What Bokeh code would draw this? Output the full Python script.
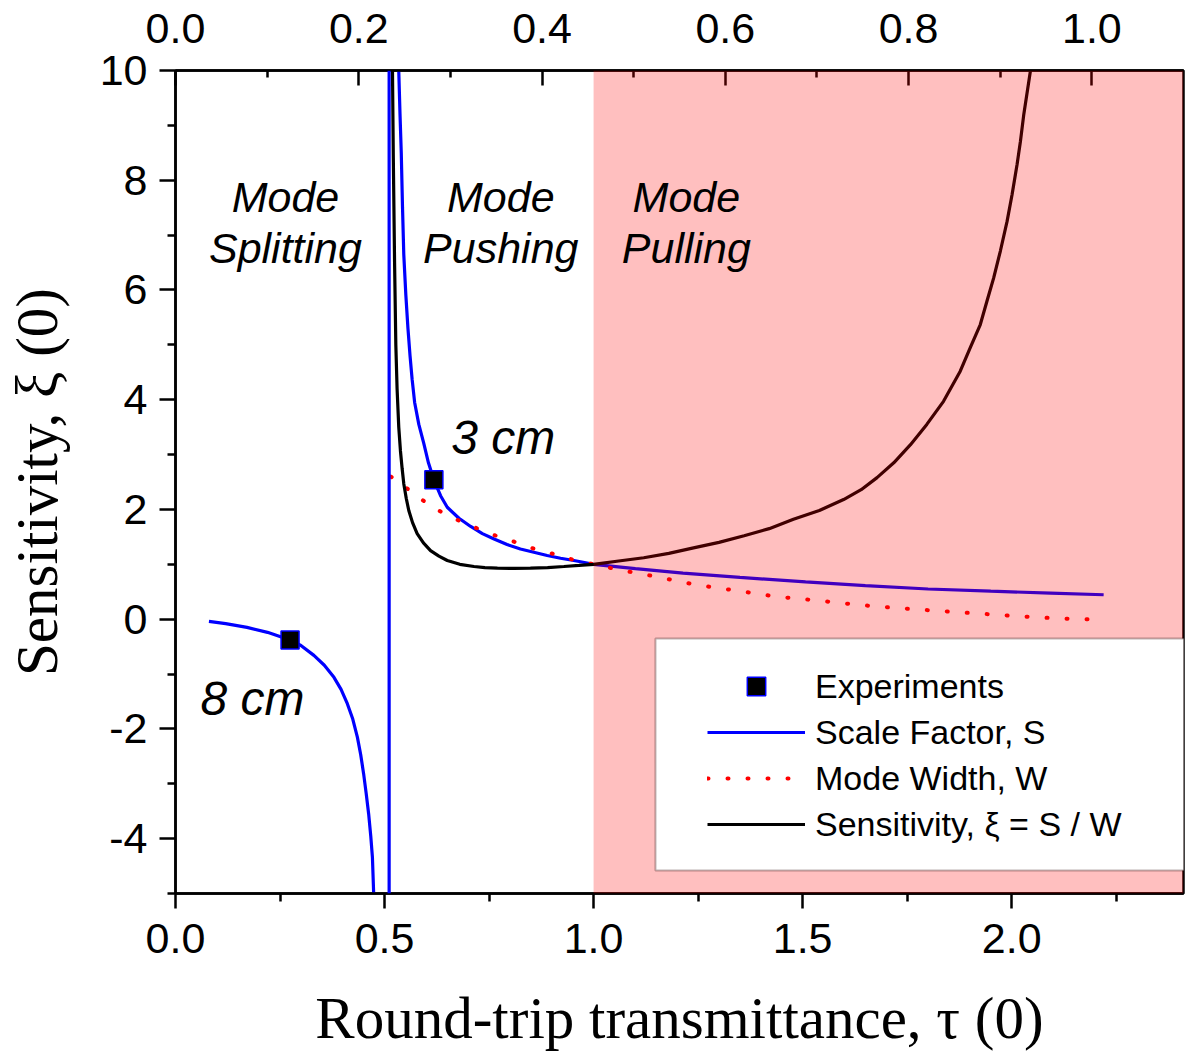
from bokeh.plotting import figure
from bokeh.models import (Range1d, LinearAxis, FixedTicker, BoxAnnotation, Label,
                          Legend, LegendItem, Span)
from bokeh.embed import file_html
from bokeh.resources import INLINE

# ---------------- data ----------------
# Scale factor S, left branch (mode splitting side)
s_left_x = [0.080, 0.120, 0.171, 0.220, 0.274, 0.300, 0.331, 0.356, 0.379, 0.396, 0.411,
            0.424, 0.435, 0.443, 0.450, 0.456, 0.462, 0.467, 0.471, 0.474]
s_left_y = [-0.04, -0.08, -0.15, -0.24, -0.38, -0.48, -0.66, -0.84, -1.06, -1.28, -1.54,
            -1.82, -2.15, -2.47, -2.82, -3.17, -3.55, -3.95, -4.34, -5.0]
# pole of S
pole_x = 0.511
# Scale factor S, right branch
s_right_x = [0.534, 0.537, 0.540, 0.543, 0.546, 0.551, 0.556, 0.561, 0.566, 0.572, 0.582,
             0.594, 0.605, 0.618, 0.634, 0.650, 0.678, 0.706, 0.734, 0.762, 0.793, 0.825,
             0.857, 0.889, 0.921, 0.953, 1.000, 1.100, 1.214, 1.350, 1.507, 1.650, 1.800,
             1.950, 2.093, 2.220]
s_right_y = [10.0, 9.2, 8.5, 7.5, 6.65, 5.9, 5.3, 4.8, 4.37, 3.95, 3.55,
             3.2, 2.85, 2.54, 2.25, 2.04, 1.84, 1.69, 1.56, 1.46, 1.36, 1.28,
             1.22, 1.16, 1.11, 1.07, 1.00, 0.92, 0.84, 0.76, 0.68, 0.61, 0.55,
             0.51, 0.475, 0.445]
# Mode width W
w_x = [0.515, 0.565, 0.612, 0.662, 0.710, 0.759, 0.807, 0.855, 0.903, 0.952, 1.000,
       1.048, 1.146, 1.243, 1.341, 1.439, 1.536, 1.634, 1.732, 1.827, 1.925, 2.023,
       2.120, 2.218]
w_y = [2.60, 2.32, 2.05, 1.85, 1.69, 1.54, 1.42, 1.29, 1.19, 1.08, 1.00,
       0.92, 0.78, 0.63, 0.52, 0.41, 0.34, 0.26, 0.20, 0.15, 0.10, 0.05,
       0.01, -0.01]
# Sensitivity xi = S / W
xi_x = [0.519, 0.521, 0.524, 0.527, 0.530, 0.534, 0.538, 0.542, 0.546, 0.552, 0.558,
        0.567, 0.578, 0.593, 0.610, 0.630, 0.650, 0.680, 0.714, 0.740, 0.770, 0.810,
        0.849, 0.890, 0.929, 0.965, 1.000, 1.060, 1.120, 1.180, 1.239, 1.300, 1.360,
        1.420, 1.478, 1.540, 1.598, 1.640, 1.678, 1.718, 1.758, 1.797, 1.837, 1.877,
        1.901, 1.925, 1.941, 1.957, 1.973, 1.989, 2.001, 2.013, 2.021, 2.029, 2.045]
xi_y = [10.0, 8.4, 6.5, 5.0, 4.2, 3.5, 3.07, 2.75, 2.47, 2.2, 1.98,
        1.76, 1.56, 1.39, 1.25, 1.15, 1.07, 1.00, 0.96, 0.94, 0.93, 0.925,
        0.93, 0.94, 0.96, 0.98, 1.00, 1.06, 1.12, 1.20, 1.30, 1.40, 1.52,
        1.65, 1.82, 1.98, 2.18, 2.36, 2.58, 2.85, 3.18, 3.55, 3.97, 4.52,
        4.95, 5.37, 5.80, 6.22, 6.71, 7.25, 7.74, 8.29, 8.71, 9.20, 10.0]
# Experiments
exp_x = [0.274, 0.618]
exp_y = [-0.38, 2.54]
# Mode pulling region starts at
pulling_start = 1.0

# tick definitions
left_ticks = [-4, -2, 0, 2, 4, 6, 8, 10]
left_minor = [-5, -3, -1, 1, 3, 5, 7, 9]
bottom_ticks = [0.0, 0.5, 1.0, 1.5, 2.0]
bottom_minor = [0.25, 0.75, 1.25, 1.75, 2.25]
top_ticks = [0.0, 0.2, 0.4, 0.6, 0.8, 1.0]
top_minor = [0.1, 0.3, 0.5, 0.7, 0.9]

SANS = "Liberation Sans"
SERIF = "Liberation Serif"

p = figure(width=1196, height=1055,
           x_range=Range1d(0, 2.411), y_range=Range1d(-5, 10),
           output_backend="svg", toolbar_location=None,
           min_border_left=175, min_border_right=13, min_border_top=70,
           min_border_bottom=162,
           x_axis_label="Round-trip transmittance, τ (0)",
           y_axis_label="Sensitivity, ξ (0)")
p.grid.visible = False
p.outline_line_color = "black"
p.outline_line_width = 2.5
p.background_fill_color = "white"
p.border_fill_color = "white"

p.extra_x_ranges = {"top": Range1d(0, 1.1)}
top_axis = LinearAxis(x_range_name="top")
p.add_layout(top_axis, "above")

bottom_axis = p.below[0]
left_axis = p.left[0]


def style_axis(ax, ticks, minor, fmt, tin, tout, mtin, mtout, standoff):
    ax.ticker = FixedTicker(ticks=ticks, minor_ticks=minor)
    ax.major_label_overrides = {t: fmt.format(t) for t in ticks}
    ax.axis_line_color = "black"
    ax.axis_line_width = 2.5
    ax.major_tick_line_color = "black"
    ax.major_tick_line_width = 2.5
    ax.minor_tick_line_color = "black"
    ax.minor_tick_line_width = 2.5
    ax.major_tick_in = tin
    ax.major_tick_out = tout
    ax.minor_tick_in = mtin
    ax.minor_tick_out = mtout
    ax.major_label_text_font = SANS
    ax.major_label_text_font_size = "43px"
    ax.major_label_text_color = "black"
    ax.major_label_standoff = standoff


style_axis(left_axis, left_ticks, left_minor, "{:g}", 0, 16, 0, 8, 12)
style_axis(bottom_axis, bottom_ticks, bottom_minor, "{:.1f}", 0, 15, 0, 8, 15)
style_axis(top_axis, top_ticks, top_minor, "{:.1f}", 15, 0, 7, 0, 28)

for ax, so in ((bottom_axis, 29), (left_axis, 27)):
    ax.axis_label_text_font = SERIF
    ax.axis_label_text_font_size = "59px"
    ax.axis_label_text_font_style = "normal"
    ax.axis_label_text_color = "black"
    ax.axis_label_standoff = so

# ---------------- curves ----------------
r_sl = p.line(s_left_x, s_left_y, line_color="#0000FF", line_width=3.2)
r_sr = p.line(s_right_x, s_right_y, line_color="#0000FF", line_width=3.2)
r_w = p.line(w_x, w_y, line_color="#FF0000", line_width=4, line_dash="1 19",
             line_cap="round")
r_xi = p.line(xi_x, xi_y, line_color="black", line_width=3.2)
r_exp = p.scatter(exp_x, exp_y, marker="square", size=18, fill_color="black",
                  line_color="#0000FF", line_width=1.5)

pole = Span(location=pole_x, dimension="height", line_color="#0000FF", line_width=3.2)
p.add_layout(pole)

# translucent red overlay for the mode pulling region
pink = BoxAnnotation(left=pulling_start, fill_color="#FF0000", fill_alpha=0.25,
                     line_alpha=0, level="annotation")
p.add_layout(pink)


# region texts
def add_text(x, y, txt, size="43px", style="italic"):
    p.add_layout(Label(x=x, y=y, text=txt, text_font=SANS, text_font_size=size,
                       text_font_style=style, text_align="center",
                       text_baseline="middle", text_color="black"))


add_text(0.263, 7.69, "Mode")
add_text(0.263, 6.76, "Splitting")
add_text(0.778, 7.69, "Mode")
add_text(0.778, 6.76, "Pushing")
add_text(1.222, 7.69, "Mode")
add_text(1.222, 6.76, "Pulling")
add_text(0.784, 3.31, "3 cm", size="48px")
add_text(0.184, -1.445, "8 cm", size="48px")

# legend frame
legend_box = BoxAnnotation(left=1.148, right=2.445, top=-0.352, bottom=-4.58,
                           fill_color="white", fill_alpha=1.0,
                           line_color="#200000", line_width=2, level="annotation")
p.add_layout(legend_box)

legend = Legend(items=[
    LegendItem(label="Experiments", renderers=[r_exp]),
    LegendItem(label="Scale Factor, S", renderers=[r_sr]),
    LegendItem(label="Mode Width, W", renderers=[r_w]),
    LegendItem(label="Sensitivity, ξ = S / W", renderers=[r_xi]),
], location=(532, 46))
legend.padding = 0
legend.margin = 0
legend.spacing = 0
legend.glyph_width = 98
legend.glyph_height = 46
legend.label_height = 46
legend.label_standoff = 10
legend.label_text_font = SANS
legend.label_text_font_size = "34px"
legend.label_text_color = "black"
legend.border_line_alpha = 0
legend.background_fill_alpha = 0
p.add_layout(legend)

open("out.html", "w").write(file_html(p, INLINE))
